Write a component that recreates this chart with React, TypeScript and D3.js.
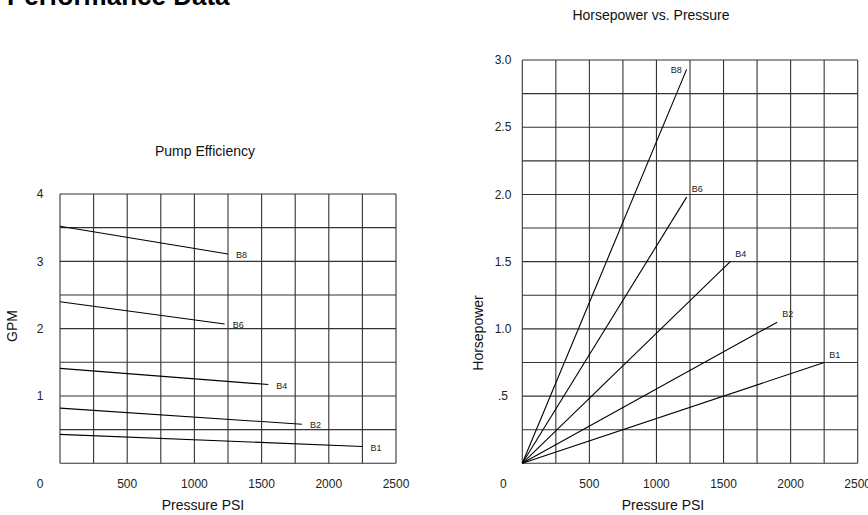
import React from "react";
import * as d3 from "d3";

const W = 868;
const H = 515;

const pressureTicks = [0, 500, 1000, 1500, 2000, 2500];
const gpmTicks = [1, 2, 3, 4];
const gpmTickLabels = ["1", "2", "3", "4"];
const hpTicks = [0.5, 1.0, 1.5, 2.0, 2.5, 3.0];
const hpTickLabels = [".5", "1.0", "1.5", "2.0", "2.5", "3.0"];

const seriesNames = ["B8", "B6", "B4", "B2", "B1"];
// Pump efficiency: start/end pressure and GPM
const effStartPsi = [0, 0, 0, 0, 0];
const effStartGpm = [3.52, 2.4, 1.41, 0.82, 0.43];
const effEndPsi = [1250, 1225, 1550, 1800, 2250];
const effEndGpm = [3.11, 2.07, 1.17, 0.58, 0.25];
// Horsepower vs pressure
const hpEndPsi = [1225, 1225, 1550, 1900, 2250];
const hpEndHp = [2.93, 1.98, 1.5, 1.05, 0.75];

const FONT = "'Liberation Sans', Arial, Helvetica, sans-serif";
const GRID = "#333";

export default function App() {
  const lx = d3.scaleLinear().domain([0, 2500]).range([60, 396]);
  const ly = d3.scaleLinear().domain([0, 4]).range([463.3, 194]);
  const rx = d3.scaleLinear().domain([0, 2500]).range([522.3, 857.7]);
  const ry = d3.scaleLinear().domain([0, 3]).range([463.3, 60]);

  const line = d3.line<[number, number]>();

  const lVert = d3.range(0, 2500.001, 250);
  const lHoriz = d3.range(0, 4.0001, 0.5);
  const rVert = d3.range(0, 2500.001, 250);
  const rHoriz = d3.range(0, 3.0001, 0.25);

  return (
    <svg
      width={W}
      height={H}
      viewBox={`0 0 ${W} ${H}`}
      style={{ position: "absolute", left: 0, top: 0, background: "#fff" }}
      fontFamily={FONT}
    >
      <rect x={0} y={0} width={W} height={H} fill="#fff" />
      <text x={7} y={5} fontSize={26} fontWeight="bold" fill="#000">
        Performance Data
      </text>

      {/* LEFT: Pump Efficiency */}
      <text x={205} y={156} fontSize={14} textAnchor="middle" fill="#111">
        Pump Efficiency
      </text>
      {lVert.map((v, i) => (
        <line key={"lv" + i} x1={lx(v)} x2={lx(v)} y1={ly(0)} y2={ly(4)} stroke={GRID} strokeWidth={1.1} />
      ))}
      {lHoriz.map((v, i) => (
        <line key={"lh" + i} x1={lx(0)} x2={lx(2500)} y1={ly(v)} y2={ly(v)} stroke={GRID} strokeWidth={1.1} />
      ))}
      {gpmTicks.map((v, i) => (
        <text key={"gt" + i} x={40} y={ly(v)} dy="0.35em" fontSize={12} textAnchor="middle" fill="#222">
          {gpmTickLabels[i]}
        </text>
      ))}
      {pressureTicks.map((v, i) => (
        <text key={"lpt" + i} x={v === 0 ? lx(v) - 20 : lx(v)} y={488} fontSize={12} textAnchor="middle" fill="#222">
          {String(v)}
        </text>
      ))}
      <text x={203} y={510} fontSize={14} textAnchor="middle" fill="#111">
        Pressure PSI
      </text>
      <text transform={`translate(17,326) rotate(-90)`} fontSize={14} textAnchor="middle" fill="#111">
        GPM
      </text>
      {seriesNames.map((n, i) => {
        const p: [number, number][] = [
          [lx(effStartPsi[i]), ly(effStartGpm[i])],
          [lx(effEndPsi[i]), ly(effEndGpm[i])],
        ];
        return (
          <g key={"ls" + n}>
            <path d={line(p) || ""} stroke="#000" strokeWidth={1.1} fill="none" />
            <text x={p[1][0] + 8} y={p[1][1] + 1} dy="0.35em" fontSize={9} fill="#222">
              {n}
            </text>
          </g>
        );
      })}

      {/* RIGHT: Horsepower vs. Pressure */}
      <text x={651} y={20} fontSize={14} textAnchor="middle" fill="#111">
        Horsepower vs. Pressure
      </text>
      {rVert.map((v, i) => (
        <line key={"rv" + i} x1={rx(v)} x2={rx(v)} y1={ry(0)} y2={ry(3)} stroke={GRID} strokeWidth={1.1} />
      ))}
      {rHoriz.map((v, i) => (
        <line key={"rh" + i} x1={rx(0)} x2={rx(2500)} y1={ry(v)} y2={ry(v)} stroke={GRID} strokeWidth={1.1} />
      ))}
      {hpTicks.map((v, i) => (
        <text key={"ht" + i} x={503} y={ry(v)} dy="0.35em" fontSize={12} textAnchor="middle" fill="#222">
          {hpTickLabels[i]}
        </text>
      ))}
      {pressureTicks.map((v, i) => (
        <text key={"rpt" + i} x={v === 0 ? rx(v) - 19 : rx(v)} y={488} fontSize={12} textAnchor="middle" fill="#222">
          {String(v)}
        </text>
      ))}
      <text x={663} y={510} fontSize={14} textAnchor="middle" fill="#111">
        Pressure PSI
      </text>
      <text transform={`translate(483,333) rotate(-90)`} fontSize={14} textAnchor="middle" fill="#111">
        Horsepower
      </text>
      {seriesNames.map((n, i) => {
        const p: [number, number][] = [
          [rx(0), ry(0)],
          [rx(hpEndPsi[i]), ry(hpEndHp[i])],
        ];
        const leftLabel = i === 0;
        return (
          <g key={"rs" + n}>
            <path d={line(p) || ""} stroke="#000" strokeWidth={1.1} fill="none" />
            <text
              x={leftLabel ? p[1][0] - 5 : p[1][0] + 5}
              y={leftLabel ? p[1][1] : p[1][1] - 8}
              dy="0.35em"
              fontSize={9}
              textAnchor={leftLabel ? "end" : "start"}
              fill="#222"
            >
              {n}
            </text>
          </g>
        );
      })}
    </svg>
  );
}
